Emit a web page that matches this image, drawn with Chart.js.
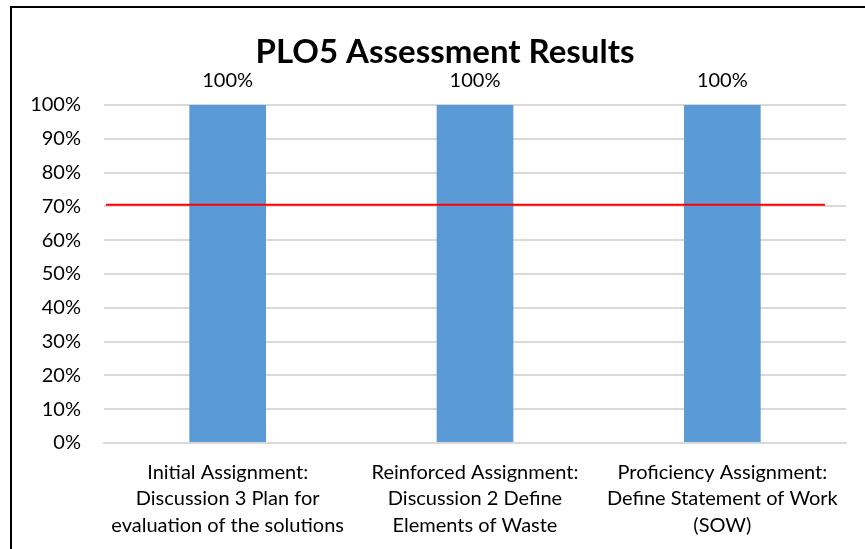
<!DOCTYPE html>
<html>
<head>
<meta charset="utf-8">
<script src="https://cdn.jsdelivr.net/npm/chart.js@4.4.1/dist/chart.umd.min.js"></script>
<style>
  html, body { margin: 0; padding: 0; background: #fff; }
  #wrap { position: relative; width: 865px; height: 549px; }
  #frame { position: absolute; left: 10px; top: 6px; right: -4px; bottom: -4px; border-left: 2px solid #000; border-top: 2px solid #000; pointer-events: none; }
  canvas { position: absolute; left: 0; top: 0; }
</style>
</head>
<body>
<div id="wrap">
  <canvas id="c" width="865" height="549"></canvas>
  <div id="frame"></div>
</div>
<script>
const chartTitle = "PLO5 Assessment Results";
const categories = [
  ["Initial Assignment:", "Discussion 3 Plan for", "evaluation of the solutions"],
  ["Reinforced Assignment:", "Discussion 2 Define", "Elements of Waste"],
  ["Proficiency Assignment:", "Define Statement of Work", "(SOW)"]
];
const values = [100, 100, 100];
const valueLabels = ["100%", "100%", "100%"];
const yTicks = [0, 10, 20, 30, 40, 50, 60, 70, 80, 90, 100];
const targetValue = 70.5;

const FONT = "Lato, 'Liberation Sans', sans-serif";

const overlayPlugin = {
  id: 'overlay',
  afterDatasetsDraw(chart) {
    const ctx = chart.ctx;
    const area = chart.chartArea;
    const y = chart.scales.y;
    // target line
    const ty = y.getPixelForValue(targetValue);
    ctx.save();
    ctx.strokeStyle = '#FF0000';
    ctx.lineWidth = 2;
    ctx.beginPath();
    ctx.moveTo(area.left + 2, ty);
    ctx.lineTo(area.right - 21, ty);
    ctx.stroke();
    // data labels
    const meta = chart.getDatasetMeta(0);
    ctx.fillStyle = '#000';
    ctx.font = "20px " + FONT;
    ctx.textAlign = 'center';
    ctx.textBaseline = 'alphabetic';
    meta.data.forEach((bar, i) => {
      ctx.fillText(valueLabels[i], bar.x, bar.y - 18);
    });
    // title
    ctx.font = "bold 33px " + FONT;
    ctx.fillText(chartTitle, (area.left + area.right) / 2 - 30, 62.5);
    ctx.restore();
  }
};

new Chart(document.getElementById('c'), {
  type: 'bar',
  data: {
    labels: categories,
    datasets: [{
      data: values,
      backgroundColor: '#5B9BD5',
      borderWidth: 0,
      barPercentage: 0.31,
      categoryPercentage: 1
    }]
  },
  options: {
    responsive: false,
    animation: false,
    events: [],
    layout: { padding: { left: 10, right: 19, top: 105, bottom: 0 } },
    plugins: { legend: { display: false }, title: { display: false }, tooltip: { enabled: false } },
    scales: {
      y: {
        min: 0, max: 100,
        afterFit(s) { s.width = 94; },
        afterBuildTicks(s) { s.ticks = yTicks.map(v => ({ value: v })); },
        border: { display: false },
        grid: { color: '#D9D9D9', lineWidth: 2, drawTicks: false },
        ticks: { padding: 23, color: '#000', font: { family: FONT, size: 20 }, callback: v => v + '%' }
      },
      x: {
        afterFit(s) { s.height = 106; },
        border: { display: true, color: '#D9D9D9', width: 2 },
        grid: { display: false, drawTicks: false },
        ticks: { padding: 16, color: '#000', maxRotation: 0, autoSkip: false, font: { family: FONT, size: 20, lineHeight: 1.33 } }
      }
    }
  },
  plugins: [overlayPlugin]
});
</script>
</body>
</html>
